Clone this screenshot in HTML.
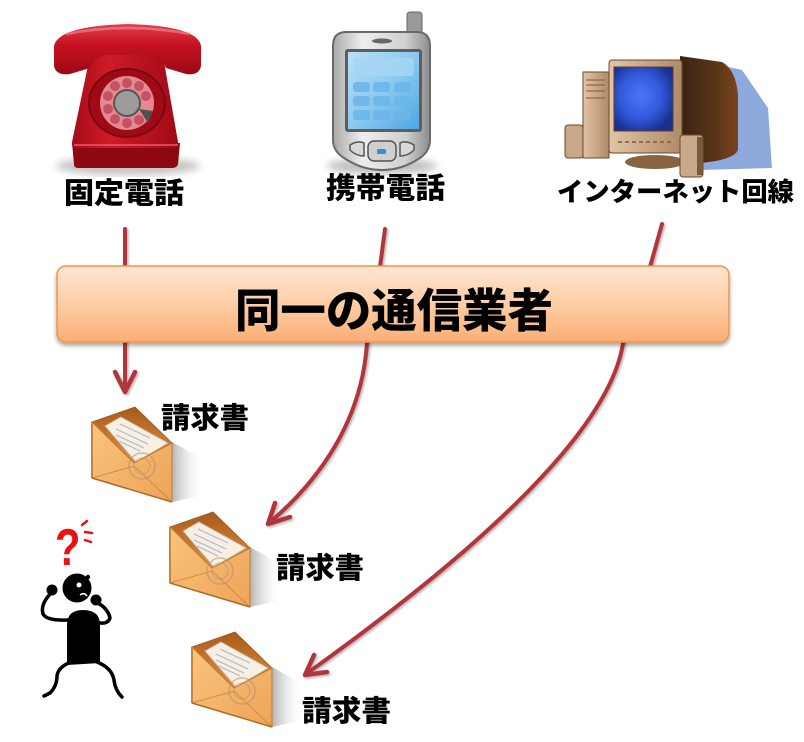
<!DOCTYPE html>
<html><head><meta charset="utf-8">
<style>
html,body{margin:0;padding:0;background:#fff;}
svg{display:block;}
.jp{font-family:"Liberation Sans","Noto Sans CJK JP",sans-serif;font-weight:900;fill:#000;}
</style></head>
<body>
<svg width="804" height="742" viewBox="0 0 804 742" xmlns="http://www.w3.org/2000/svg">
<defs>
  <linearGradient id="barG" x1="0" y1="0" x2="0" y2="1">
    <stop offset="0" stop-color="#fee6d2"/>
    <stop offset="0.5" stop-color="#fdcda6"/>
    <stop offset="1" stop-color="#fbae74"/>
  </linearGradient>
  <filter id="sh" x="-5%" y="-20%" width="110%" height="150%">
    <feGaussianBlur in="SourceAlpha" stdDeviation="2"/>
    <feOffset dx="0" dy="3" result="o"/>
    <feComponentTransfer><feFuncA type="linear" slope="0.35"/></feComponentTransfer>
    <feMerge><feMergeNode/><feMergeNode in="SourceGraphic"/></feMerge>
  </filter>
  <filter id="ash" x="-20%" y="-20%" width="140%" height="140%">
    <feGaussianBlur in="SourceAlpha" stdDeviation="1.2"/>
    <feOffset dx="1.5" dy="1.5" result="o"/>
    <feComponentTransfer><feFuncA type="linear" slope="0.3"/></feComponentTransfer>
    <feMerge><feMergeNode/><feMergeNode in="SourceGraphic"/></feMerge>
  </filter>
  <filter id="blur4"><feGaussianBlur stdDeviation="4"/></filter>
  <linearGradient id="redG" x1="0" y1="0" x2="1" y2="0">
    <stop offset="0" stop-color="#a40c18"/>
    <stop offset="0.35" stop-color="#d01a28"/>
    <stop offset="1" stop-color="#a00a16"/>
  </linearGradient>
  <linearGradient id="hsG" x1="0" y1="0" x2="0" y2="1">
    <stop offset="0" stop-color="#e0404c"/>
    <stop offset="0.4" stop-color="#c81222"/>
    <stop offset="1" stop-color="#9a0a14"/>
  </linearGradient>
  <linearGradient id="silG" x1="0" y1="0" x2="1" y2="0">
    <stop offset="0" stop-color="#a8a8a8"/>
    <stop offset="0.3" stop-color="#eeeeee"/>
    <stop offset="0.75" stop-color="#d0d0d0"/>
    <stop offset="1" stop-color="#8c8c8c"/>
  </linearGradient>
  <linearGradient id="scrG" x1="0" y1="0" x2="1" y2="1">
    <stop offset="0" stop-color="#b8e0f8"/>
    <stop offset="0.5" stop-color="#8ccaf0"/>
    <stop offset="1" stop-color="#4ea6e4"/>
  </linearGradient>
  <radialGradient id="monG" cx="0.45" cy="0.45" r="0.6">
    <stop offset="0" stop-color="#4a78f8"/>
    <stop offset="0.6" stop-color="#3158d8"/>
    <stop offset="1" stop-color="#1a3090"/>
  </radialGradient>
  <linearGradient id="beigeG" x1="0" y1="0" x2="1" y2="0">
    <stop offset="0" stop-color="#e2c4a4"/>
    <stop offset="1" stop-color="#b08a68"/>
  </linearGradient>
  <linearGradient id="backG" x1="0" y1="0" x2="1" y2="0">
    <stop offset="0" stop-color="#3a2212"/>
    <stop offset="0.6" stop-color="#5a3418"/>
    <stop offset="1" stop-color="#7a4420"/>
  </linearGradient>
  <linearGradient id="envIn" x1="0" y1="0" x2="0" y2="1">
    <stop offset="0" stop-color="#a85a18"/>
    <stop offset="1" stop-color="#e09048"/>
  </linearGradient>
  <linearGradient id="envF" x1="0" y1="0" x2="1" y2="1">
    <stop offset="0" stop-color="#f9c47e"/>
    <stop offset="1" stop-color="#eea458"/>
  </linearGradient>
  <linearGradient id="envS" x1="0" y1="0" x2="1" y2="0">
    <stop offset="0" stop-color="#b4b4b4"/>
    <stop offset="1" stop-color="#ffffff" stop-opacity="0"/>
  </linearGradient>
  <g id="env">
    <polygon points="80,20 112,38 108,74 80,80" fill="url(#envS)"/>
    <polygon points="0,0 43,-15 80,21 42,41" fill="url(#envIn)" stroke="#9a5a20" stroke-width="0.8"/>
    <polygon points="13,4 29,-5 76,21 44,40" fill="#f7efe2" stroke="#c8bca8" stroke-width="0.8"/>
    <g stroke="#9aa8c8" stroke-width="1" opacity="0.8">
      <line x1="28" y1="2" x2="58" y2="16"/>
      <line x1="24" y1="7" x2="56" y2="22"/>
      <line x1="24" y1="13" x2="52" y2="26"/>
      <line x1="27" y1="19" x2="48" y2="29"/>
    </g>
    <polygon points="0,0 42,41 80,21 80,80 0,56" fill="url(#envF)" stroke="#c07a32" stroke-width="1"/>
    <polyline points="0,56 42,44 80,80" fill="none" stroke="#cf8c44" stroke-width="1"/>
    <circle cx="50" cy="44" r="13" fill="none" stroke="#b08a70" stroke-width="1.4" opacity="0.55"/>
    <circle cx="50" cy="44" r="8" fill="none" stroke="#b08a70" stroke-width="1" opacity="0.5"/>
    <line x1="0" y1="0" x2="0" y2="56" stroke="#c8843e" stroke-width="2"/>
    <line x1="0" y1="56" x2="80" y2="80" stroke="#b06a28" stroke-width="1.5"/>
  </g>
</defs>

<!-- arrows -->
<g filter="url(#ash)" fill="none" stroke="#b2363c" stroke-width="4" stroke-linecap="round" stroke-linejoin="round">
  <path d="M125,229 L125,390"/>
  <polyline points="115,372 125,392 135,372" stroke-width="4.5"/>
  <path d="M385,229 L380,267 L367,343 C362,420 320,480 269,523"/>
  <polyline points="275,503 268,524 290,517" stroke-width="4.5"/>
  <path d="M662,224 L650,267 L623,343 C610,430 480,550 306,674"/>
  <polyline points="314,655 305,675 327,672" stroke-width="4.5"/>
</g>

<!-- bar -->
<rect x="57" y="266" width="672" height="76" rx="9" fill="url(#barG)" stroke="#f0944a" stroke-width="1.5" filter="url(#sh)"/>
<text class="jp" x="235" y="327" font-size="46" textLength="318" lengthAdjust="spacingAndGlyphs">同一の通信業者</text>

<!-- red phone -->
<ellipse cx="128" cy="166" rx="72" ry="9" fill="#888" opacity="0.5" filter="url(#blur4)"/>
<path d="M72,143 L180,143 L178,164 Q177,168 172,168 L78,168 Q74,168 74,164 Z" fill="#8e0812"/>
<path d="M96,50 L158,50 Q162,50 163,56 L178,142 Q179,148 172,148 L78,148 Q71,148 72,142 L90,56 Q91,50 96,50 Z" fill="url(#redG)"/>
<line x1="74" y1="145" x2="178" y2="145" stroke="#e85a66" stroke-width="1.5"/>
<path d="M54,46 Q58,26 128,24 Q198,26 201,46 L201,66 Q199,76 186,74 L166,68 Q162,58 150,55 L106,55 Q94,58 90,68 L70,74 Q56,76 54,66 Z" fill="url(#hsG)"/>
<path d="M66,34 Q128,22 190,34" fill="none" stroke="#f08090" stroke-width="2.5" opacity="0.7"/>
<ellipse cx="127" cy="103" rx="38" ry="34" fill="#9e0a16" stroke="#7a0610" stroke-width="2"/>
<circle cx="127" cy="103" r="27" fill="#e48892"/>
<g fill="#c45262">
  <circle cx="127" cy="83" r="5"/><circle cx="139" cy="86" r="5"/><circle cx="146" cy="96" r="5"/>
  <circle cx="115" cy="86" r="5"/><circle cx="108" cy="96" r="5"/><circle cx="108" cy="109" r="5"/>
  <circle cx="115" cy="119" r="5"/><circle cx="127" cy="123" r="5"/><circle cx="139" cy="120" r="5"/>
</g>
<circle cx="127" cy="103" r="13" fill="#9c9c9c" stroke="#555" stroke-width="2"/>
<polygon points="139,109 153,111 148,123" fill="#505050"/>
<text class="jp" x="64" y="203" font-size="29" textLength="120" lengthAdjust="spacingAndGlyphs">固定電話</text>

<!-- mobile phone -->
<ellipse cx="382" cy="166" rx="55" ry="8" fill="#888" opacity="0.55" filter="url(#blur4)"/>
<rect x="407" y="12" width="15" height="26" rx="3" fill="#9a9a9a" stroke="#666" stroke-width="1"/>
<path d="M346,32 L417,32 Q430,32 430,46 L430,140 Q430,151 420,158 Q402,170 382,170 Q362,170 344,158 Q333,151 333,140 L333,46 Q333,32 346,32 Z" fill="url(#silG)" stroke="#6a6a6a" stroke-width="2"/>
<ellipse cx="382" cy="41" rx="10" ry="2.5" fill="#666"/>
<rect x="345" y="49" width="77" height="83" rx="3" fill="#5e5e5e"/>
<rect x="348" y="52" width="71" height="77" fill="url(#scrG)"/>
<rect x="353" y="58" width="61" height="18" rx="3" fill="#a6d6f4" opacity="0.8"/>
<g fill="#6cb6ea" opacity="0.85">
  <rect x="353" y="82" width="17" height="10" rx="3"/><rect x="373" y="82" width="17" height="10" rx="3"/><rect x="394" y="82" width="17" height="10" rx="3"/>
  <rect x="353" y="96" width="17" height="10" rx="3"/><rect x="373" y="96" width="17" height="10" rx="3"/><rect x="394" y="96" width="17" height="10" rx="3"/>
  <rect x="353" y="110" width="17" height="10" rx="3"/><rect x="373" y="110" width="17" height="10" rx="3"/><rect x="394" y="110" width="17" height="10" rx="3"/>
</g>
<path d="M350,145 Q358,140 364,143 L364,156 Q356,156 350,150 Z" fill="#d8d8d8" stroke="#555" stroke-width="1.5"/>
<path d="M414,145 Q406,140 400,143 L400,156 Q408,156 414,150 Z" fill="#d8d8d8" stroke="#555" stroke-width="1.5"/>
<rect x="368" y="141" width="28" height="20" rx="6" fill="#cfcfcf" stroke="#555" stroke-width="1.5"/>
<rect x="377" y="149" width="9" height="5" rx="1" fill="#3a8ae0"/>
<text class="jp" x="326" y="198" font-size="29" textLength="119" lengthAdjust="spacingAndGlyphs">携帯電話</text>

<!-- computer -->
<polygon points="690,58 742,70 768,108 772,168 702,170" fill="#8eaadc"/>
<path d="M680,56 L722,62 Q736,70 738,95 L738,150 Q734,160 700,163 L680,160 Z" fill="url(#backG)"/>
<ellipse cx="655" cy="162" rx="30" ry="7" fill="#8a6442"/>
<rect x="609" y="60" width="73" height="93" rx="3" fill="url(#beigeG)" stroke="#6a4a2e" stroke-width="1"/>
<rect x="614" y="67" width="59" height="64" fill="url(#monG)" stroke="#5a4030" stroke-width="1"/>
<line x1="618" y1="142" x2="672" y2="142" stroke="#7a5a3a" stroke-width="1.5" stroke-dasharray="4,3"/>
<rect x="583" y="72" width="26" height="86" fill="url(#beigeG)" stroke="#6a4a2e" stroke-width="1"/>
<g stroke="#7a5a3a" stroke-width="1">
  <line x1="586" y1="80" x2="605" y2="80"/><line x1="586" y1="85" x2="605" y2="85"/><line x1="586" y1="91" x2="605" y2="91"/><line x1="586" y1="98" x2="605" y2="98"/>
</g>
<rect x="565" y="125" width="18" height="33" rx="3" fill="#c8a888" stroke="#6a4a2e" stroke-width="1"/>
<rect x="680" y="135" width="23" height="42" rx="3" fill="#c8a888" stroke="#6a4a2e" stroke-width="1"/>
<rect x="697" y="137" width="6" height="38" fill="#7a5a3a"/>
<text class="jp" x="557" y="201" font-size="26" textLength="237" lengthAdjust="spacingAndGlyphs">インターネット回線</text>

<!-- envelopes -->
<use href="#env" transform="translate(92,422)"/>
<use href="#env" transform="translate(170,527)"/>
<use href="#env" transform="translate(192,647)"/>
<text class="jp" x="161" y="428" font-size="29" textLength="88" lengthAdjust="spacingAndGlyphs">請求書</text>
<text class="jp" x="276" y="578" font-size="29" textLength="88" lengthAdjust="spacingAndGlyphs">請求書</text>
<text class="jp" x="302" y="721" font-size="29" textLength="89" lengthAdjust="spacingAndGlyphs">請求書</text>

<!-- stick figure -->
<text x="55" y="565" font-family="Liberation Sans, sans-serif" font-weight="bold" font-size="52" fill="#ee1010" transform="translate(55,565) scale(0.8,1) translate(-55,-565)">?</text>
<g stroke="#ee1010" stroke-width="2.5" stroke-linecap="round">
  <line x1="82" y1="525" x2="87" y2="521"/>
  <line x1="85" y1="532" x2="92" y2="533"/>
  <line x1="85" y1="540" x2="91" y2="542"/>
</g>
<circle cx="77" cy="588" r="14.5" fill="#000"/>
<circle cx="88" cy="577" r="2.2" fill="#000"/>
<circle cx="79" cy="585" r="2.5" fill="#fff"/>
<path d="M80,595 Q84,592 87,596" stroke="#fff" stroke-width="1.6" fill="none"/>
<circle cx="52" cy="590" r="5.5" fill="#000"/>
<circle cx="96" cy="600" r="5.5" fill="#000"/>
<g fill="none" stroke="#000" stroke-width="3.5" stroke-linecap="round">
  <path d="M52,592 Q40,604 43,614 Q47,621 68,620"/>
  <path d="M96,602 Q108,608 110,618 Q108,624 100,623"/>
  <path d="M71,662 Q58,667 57,676 Q57,686 50,693 L44,696"/>
  <path d="M97,662 Q112,668 114,680 Q115,690 122,697"/>
</g>
<path d="M67,665 L67,625 Q67,610 83,610 Q100,610 100,625 L100,663 Z" fill="#000"/>
</svg>
</body></html>
